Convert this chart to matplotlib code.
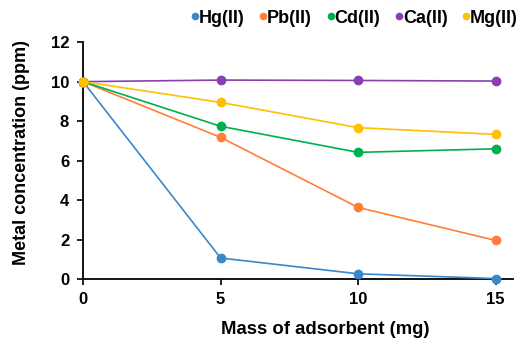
import matplotlib
matplotlib.use("Agg")
import matplotlib.pyplot as plt

plt.rcParams['font.family'] = ['Liberation Sans', 'DejaVu Sans']
plt.rcParams['font.weight'] = 'bold'

mass = [0, 5, 10, 15]
hg = [10, 1.07, 0.27, 0.03]
pb = [10, 7.18, 3.63, 1.96]
cd = [10, 7.74, 6.42, 6.60]
ca = [10, 10.08, 10.06, 10.03]
mg = [10, 8.95, 7.67, 7.33]
labels = ['Hg(II)', 'Pb(II)', 'Cd(II)', 'Ca(II)', 'Mg(II)']
colors = ['#3a88cc', '#ff7f36', '#00b050', '#8a3fb0', '#ffc000']
series = [hg, pb, cd, ca, mg]

fig = plt.figure(figsize=(5.19, 3.40), dpi=100)
ax = fig.add_axes([0.160, 0.179, 0.828, 0.697])

for ys, c, lab in zip(series, colors, labels):
    ax.plot(mass, ys, color=c, lw=1.2, marker='o', ms=6, mec=c, mfc=c,
            label=lab, clip_on=False, zorder=3)

ax.set_xlim(0, 15.62)
ax.set_ylim(0, 12)
ax.set_xticks([0, 5, 10, 15])
ax.set_yticks([0, 2, 4, 6, 8, 10, 12])
for s in ['top', 'right']:
    ax.spines[s].set_visible(False)
for s in ['left', 'bottom']:
    ax.spines[s].set_linewidth(1.3)
ax.tick_params(direction='out', length=4, width=1.2, labelsize=12)
for t in ax.get_xticklabels() + ax.get_yticklabels():
    t.set_fontweight('bold')
ax.tick_params(axis='x', pad=5)
ax.tick_params(axis='y', pad=6)

ax.set_xlabel('Mass of adsorbent (mg)', fontsize=13.3, fontweight='bold')
ax.set_ylabel('Metal concentration (ppm)', fontsize=13, fontweight='bold')
ax.xaxis.set_label_coords(0.563, -0.178)
ax.yaxis.set_label_coords(-0.123, 0.534)

handles = [plt.Line2D([], [], ls='none', marker='o', ms=4.5, color=c) for c in colors]
fig.legend(handles, labels, loc='center right', bbox_to_anchor=(0.998, 0.947),
           ncol=5, frameon=False, prop={'size': 13, 'weight': 'bold'},
           handlelength=0.3, handletextpad=0.05, columnspacing=0.9,
           borderaxespad=0.0, borderpad=0.0)

fig.savefig('out.png', dpi=100)
